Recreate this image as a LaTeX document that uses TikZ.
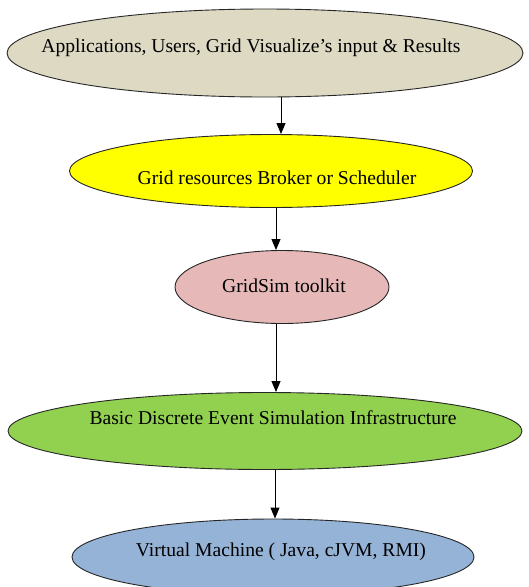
\documentclass[tikz,border=0pt]{standalone}
\usepackage{fontspec}
\setmainfont{Liberation Serif}
\usetikzlibrary{shapes.geometric,arrows.meta}
\definecolor{cbeige}{HTML}{DDD9C3}
\definecolor{cyellow}{HTML}{FFFF00}
\definecolor{cpink}{HTML}{E6B9B8}
\definecolor{cgreen}{HTML}{92D050}
\definecolor{cblue}{HTML}{95B3D7}
\tikzset{
  oval/.style={ellipse, draw=black!85, line width=0.9pt, inner sep=0pt},
  lbl/.style={font=\fontsize{19.6}{22}\selectfont, inner sep=0pt},
  arr/.style={draw=black, line width=1pt, -{Triangle[width=9pt,length=11pt]}}
}
\begin{document}
\begin{tikzpicture}[x=1pt,y=-1pt]
\useasboundingbox (0,0) rectangle (529,587);
\clip (0,0) rectangle (529,587);
\node[oval, fill=cbeige, minimum width=516pt, minimum height=88pt] (app) at (265,53) {};
\node[lbl] (tapp) at (251,48) {Applications, Users, Grid Visualize’s input \& Results};
\node[oval, fill=cyellow, minimum width=403pt, minimum height=73pt] (broker) at (271,171) {};
\node[lbl] (tbroker) at (277,178) {Grid resources Broker or Scheduler};
\node[oval, fill=cpink, minimum width=214pt, minimum height=73pt] (gridsim) at (282,287) {};
\node[lbl] (tgridsim) at (284,286) {GridSim toolkit};
\node[oval, fill=cgreen, minimum width=514pt, minimum height=77pt] (des) at (265,431) {};
\node[lbl] (tdes) at (273,418) {Basic Discrete Event Simulation Infrastructure};
\node[oval, fill=cblue, minimum width=402pt, minimum height=76pt] (vm) at (273,557) {};
\node[lbl] (tvm) at (281,552) {Virtual Machine ( Java, cJVM, RMI)};
\draw[arr] (app.south -| 281,0) -- (broker.north -| 281,0);
\draw[arr] (broker.south -| 276,0) -- (gridsim.north -| 276,0);
\draw[arr] (gridsim.south -| 276,0) -- (des.north -| 276,0);
\draw[arr] (des.south -| 275,0) -- (vm.north -| 275,0);
\end{tikzpicture}
\end{document}
